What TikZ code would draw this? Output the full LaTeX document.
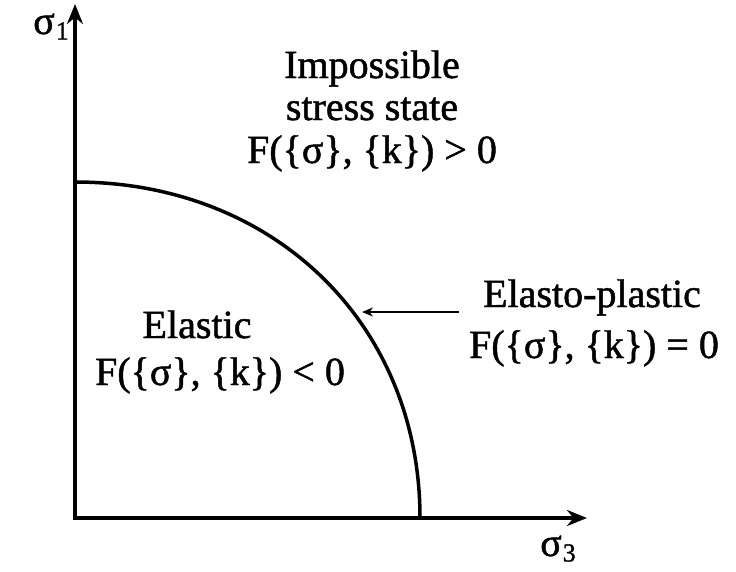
\documentclass[tikz,border=0pt]{standalone}
\usepackage{fontspec}
\setmainfont{Liberation Serif}[FakeBold=1.2]
\usetikzlibrary{arrows.meta,positioning}

\newcommand{\sigsub}[1]{σ\kern1pt\raisebox{-0.3ex}{\fontsize{26}{26}\selectfont #1}}

\begin{document}
\begin{tikzpicture}[x=1pt, y=-1pt,
  axis/.style={line width=3.5pt, line join=miter, {Stealth[length=20pt,width=16pt]}-{Stealth[length=20pt,width=16pt]}},
  surface/.style={line width=3.5pt},
  pointer/.style={line width=2pt, -{Stealth[length=11pt,width=9pt]}},
  label/.style={font=\fontsize{40}{42}\selectfont, inner sep=0pt, anchor=base},
]
\useasboundingbox (0,0) rectangle (736,571);

% Axes
\coordinate (origin) at (75,518);
\coordinate (ytip) at (75,4);
\coordinate (xtip) at (587,518);
\draw[axis] (ytip) -- (origin) -- (xtip);
\node[label] (sigone) at (51,34) {\sigsub{1}};
\node[label] (sigthree) at (558,556) {\sigsub{3}};

% Yield surface
\coordinate (top) at (75,182);
\coordinate (bottom) at (420,518);
\draw[surface] (top) .. controls (274,182) and (420,324) .. (bottom);

% Regions
\node[label] (impossible) at (372,78) {Impossible};
\node[label, below=42pt of impossible.base, anchor=base] (stress) {stress state};
\node[label, below=43pt of stress.base, anchor=base] (outside) {F(\{σ\}, \{k\}) > 0};

\node[label] (elastic) at (197,338) {Elastic};
\node[label, below=47pt of elastic.base, anchor=base, xshift=23pt] (inside) {F(\{σ\}, \{k\}) < 0};

\node[label] (plastic) at (592,307) {Elasto-plastic};
\node[label, below=51pt of plastic.base, anchor=base, xshift=2pt] (onyield) {F(\{σ\}, \{k\}) = 0};

% Pointer to the surface
\coordinate (hit) at (362,312);
\draw[pointer] ([xshift=-24pt]plastic.west |- hit) -- (hit);
\end{tikzpicture}
\end{document}
